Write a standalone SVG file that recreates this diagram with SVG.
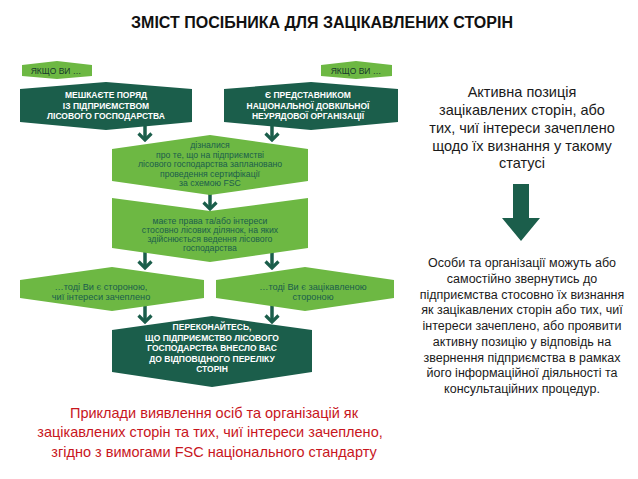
<svg xmlns="http://www.w3.org/2000/svg" width="638" height="479" viewBox="0 0 638 479">
<style>
.bg{fill:#ffffff}
.lg{fill:#6db843}
.dg{fill:#1b5e4b}
.title{font-family:"Liberation Sans",Arial,sans-serif;font-weight:bold;font-size:16px;fill:#111;text-anchor:middle}
.tag{font-family:"Liberation Sans",Arial,sans-serif;font-size:8.5px;fill:#17392c;text-anchor:middle}
.wt{font-family:"Liberation Sans",Arial,sans-serif;font-weight:bold;font-size:8.5px;fill:#ffffff;text-anchor:middle}
.gt{font-family:"Liberation Sans",Arial,sans-serif;font-size:8.7px;fill:#1b5e4b;text-anchor:middle}
.gt2{font-family:"Liberation Sans",Arial,sans-serif;font-size:9.2px;fill:#1b5e4b;text-anchor:middle}
.red{font-family:"Liberation Sans",Arial,sans-serif;font-size:14.5px;fill:#c8161d;text-anchor:middle}
.rt1{font-family:"Liberation Sans",Arial,sans-serif;font-size:14.5px;fill:#1a1a1a;text-anchor:middle}
.rt2{font-family:"Liberation Sans",Arial,sans-serif;font-size:12.5px;fill:#1a1a1a;text-anchor:middle}
.conn{stroke:#1b5e4b;stroke-width:3.5;fill:none;marker-end:url(#chev)}
</style>
<defs>
<marker id="chev" markerUnits="userSpaceOnUse" viewBox="0 0 10 16" markerWidth="10" markerHeight="16" refX="8" refY="8" orient="auto">
<path d="M1.5,1.5 L8,8 L1.5,14.5" fill="none" stroke="#1b5e4b" stroke-width="3.2"/>
</marker>
</defs>
<rect class="bg" x="0" y="0" width="638" height="479"/>
<text class="title" x="322" y="28">ЗМІСТ ПОСІБНИКА ДЛЯ ЗАЦІКАВЛЕНИХ СТОРІН</text>

<g id="connectors">
<line class="conn" x1="145" y1="126" x2="145" y2="140"/>
<line class="conn" x1="272" y1="126" x2="272" y2="140"/>
<line class="conn" x1="210" y1="194" x2="210" y2="209"/>
<line class="conn" x1="145" y1="252" x2="145" y2="268"/>
<line class="conn" x1="272" y1="252" x2="272" y2="268"/>
<line class="conn" x1="145" y1="305" x2="145" y2="322"/>
<line class="conn" x1="272" y1="305" x2="272" y2="322"/>
<polygon class="dg" points="513,184 529,184 529,218 540,218 521,241 502,218 513,218"/>
</g>

<g id="tag-left">
<polygon class="lg" points="22,65 57,61 92,65 92,76 57,79 22,76"/>
<text class="tag" x="56" y="73.5">ЯКЩО ВИ …</text>
</g>
<g id="tag-right">
<polygon class="lg" points="321,65 356,61 392,65 392,76 356,79 321,76"/>
<text class="tag" x="356" y="73.5">ЯКЩО ВИ …</text>
</g>

<g id="node-live-near">
<polygon class="dg" points="20,89 106,82 192,89 192,122 106,130 20,122"/>
<text class="wt" x="106" y="98">МЕШКАЄТЕ ПОРЯД</text>
<text class="wt" x="106" y="108.5">ІЗ ПІДПРИЄМСТВОМ</text>
<text class="wt" x="106" y="119">ЛІСОВОГО ГОСПОДАРСТВА</text>
</g>
<g id="node-ngo">
<polygon class="dg" points="224,89 311,82 398,89 398,122 311,130 224,122"/>
<text class="wt" x="308" y="98">Є ПРЕДСТАВНИКОМ</text>
<text class="wt" x="308" y="108.5">НАЦІОНАЛЬНОЇ ДОВКІЛЬНОЇ</text>
<text class="wt" x="308" y="119">НЕУРЯДОВОЇ ОРГАНІЗАЦІЇ</text>
</g>

<g id="node-learned">
<polygon class="lg" points="112,149 210,135 308,149 308,181 210,195 112,181"/>
<text class="gt" x="210" y="148">дізналися</text>
<text class="gt" x="210" y="157.5">про те, що на підприємстві</text>
<text class="gt" x="210" y="167">лісового господарства заплановано</text>
<text class="gt" x="210" y="176.5">проведення сертифікації</text>
<text class="gt" x="210" y="186">за схемою FSC</text>
</g>

<g id="node-rights">
<polygon class="lg" points="112,198 210,211 308,198 308,248 210,262 112,248"/>
<text class="gt" x="210" y="224">маєте права та/або інтереси</text>
<text class="gt" x="210" y="233">стосовно лісових ділянок, на яких</text>
<text class="gt" x="210" y="242">здійснюється ведення лісового</text>
<text class="gt" x="210" y="251">господарства</text>
</g>

<g id="node-affected">
<polygon class="lg" points="20,280 112,267 204,280 204,298 112,311 20,298"/>
<text class="gt2" x="101" y="290">…тоді Ви є стороною,</text>
<text class="gt2" x="101" y="300">чиї інтереси зачеплено</text>
</g>
<g id="node-interested">
<polygon class="lg" points="216,280 305,267 394,280 394,298 305,311 216,298"/>
<text class="gt2" x="313" y="290">…тоді Ви є зацікавленою</text>
<text class="gt2" x="313" y="300">стороною</text>
</g>

<g id="node-confirm">
<polygon class="dg" points="112,330 212,316 312,330 312,372 212,387 112,372"/>
<text class="wt" x="212" y="330">ПЕРЕКОНАЙТЕСЬ,</text>
<text class="wt" x="212" y="340.5">ЩО ПІДПРИЄМСТВО ЛІСОВОГО</text>
<text class="wt" x="212" y="351">ГОСПОДАРСТВА ВНЕСЛО ВАС</text>
<text class="wt" x="212" y="361.5">ДО ВІДПОВІДНОГО ПЕРЕЛІКУ</text>
<text class="wt" x="212" y="372">СТОРІН</text>
</g>

<g id="caption">
<text class="red" x="214" y="418">Приклади виявлення осіб та організацій як</text>
<text class="red" x="210" y="437">зацікавлених сторін та тих, чиї інтереси зачеплено,</text>
<text class="red" x="214" y="457">згідно з вимогами FSC національного стандарту</text>
</g>

<g id="text-active">
<text class="rt1" x="522" y="97">Активна позиція</text>
<text class="rt1" x="522" y="115">зацікавлених сторін, або</text>
<text class="rt1" x="522" y="133">тих, чиї інтереси зачеплено</text>
<text class="rt1" x="522" y="151">щодо їх визнання у такому</text>
<text class="rt1" x="522" y="168">статусі</text>
</g>

<g id="text-persons">
<text class="rt2" x="522" y="267">Особи та організації можуть або</text>
<text class="rt2" x="522" y="283">самостійно звернутись до</text>
<text class="rt2" x="522" y="298.5">підприємства стосовно їх визнання</text>
<text class="rt2" x="522" y="314">як зацікавлених сторін або тих, чиї</text>
<text class="rt2" x="522" y="330">інтереси зачеплено, або проявити</text>
<text class="rt2" x="522" y="346">активну позицію у відповідь на</text>
<text class="rt2" x="522" y="361.5">звернення підприємства в рамках</text>
<text class="rt2" x="522" y="377">його інформаційної діяльності та</text>
<text class="rt2" x="522" y="393">консультаційних процедур.</text>
</g>
</svg>
